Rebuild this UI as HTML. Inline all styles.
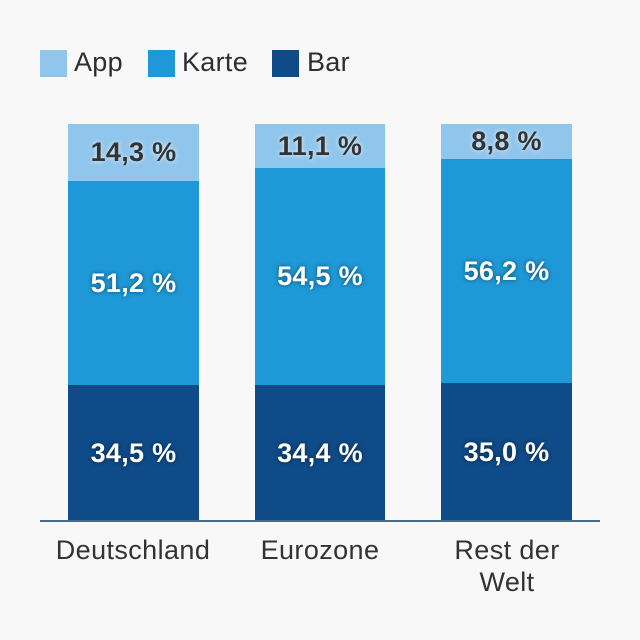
<!DOCTYPE html><html><head><style>
body{margin:0;background:#f8f8f8;width:640px;height:640px;overflow:hidden;font-family:"Liberation Sans",sans-serif}
.a{position:absolute}
.lg{font-size:27px;color:#2a2f33;top:47px;letter-spacing:0.3px}
.sq{width:27px;height:27px;top:50px}
.seg{position:absolute;display:flex;align-items:center;justify-content:center;font-weight:bold;font-size:27px;letter-spacing:0.3px;color:#fff;text-shadow:0 0 4px rgba(0,0,0,.5)}
.ap{background:#91c6ec;color:#333;text-shadow:0 0 4px rgba(255,255,255,.8)}
.ka{background:#1e98d6}
.ba{background:#0e4b88}
.xl{font-size:27px;letter-spacing:0.4px;color:#333;text-align:center;line-height:32px;top:534px}
</style></head><body>
<div class="a sq" style="left:40px;background:#91c6ec"></div><div class="a lg" style="left:74px">App</div>
<div class="a sq" style="left:148px;background:#1e98d6"></div><div class="a lg" style="left:182px">Karte</div>
<div class="a sq" style="left:272px;background:#0e4b88"></div><div class="a lg" style="left:307px">Bar</div>

<div class="seg ap" style="left:68px;width:131px;top:124px;height:57px">14,3 %</div>
<div class="seg ka" style="left:68px;width:131px;top:181px;height:204px">51,2 %</div>
<div class="seg ba" style="left:68px;width:131px;top:385px;height:136px">34,5 %</div>

<div class="seg ap" style="left:255px;width:130px;top:124px;height:44px">11,1 %</div>
<div class="seg ka" style="left:255px;width:130px;top:168px;height:217px">54,5 %</div>
<div class="seg ba" style="left:255px;width:130px;top:385px;height:136px">34,4 %</div>

<div class="seg ap" style="left:441px;width:131px;top:124px;height:35px">8,8 %</div>
<div class="seg ka" style="left:441px;width:131px;top:159px;height:224px">56,2 %</div>
<div class="seg ba" style="left:441px;width:131px;top:383px;height:138px">35,0 %</div>

<div class="a" style="left:40px;width:560px;top:520px;height:2px;background:#4a6a86"></div>
<div class="a xl" style="left:33px;width:200px">Deutschland</div>
<div class="a xl" style="left:220px;width:200px">Eurozone</div>
<div class="a xl" style="left:407px;width:200px">Rest der<br>Welt</div>
</body></html>
